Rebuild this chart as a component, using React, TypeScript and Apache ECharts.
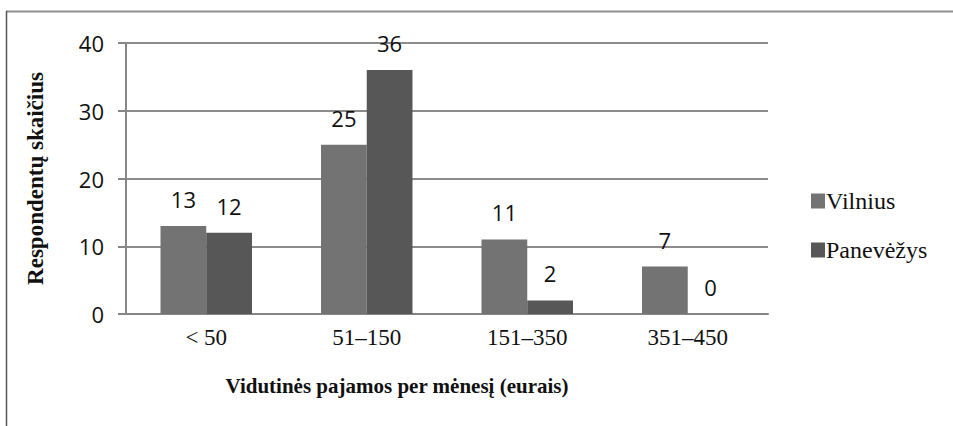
import React, { useEffect, useRef } from "react";
import * as echarts from "echarts";

const categories = ["< 50", "51–150", "151–350", "351–450"];
const vilnius = [13, 25, 11, 7];
const panevezys = [12, 36, 2, 0];
const seriesNames = ["Vilnius", "Panevėžys"];
const yTicks = { min: 0, max: 40, interval: 10 };

const SERIF = "'Liberation Serif', 'Times New Roman', serif";
const SANS = "'Open Sans', sans-serif";

export default function App() {
  const ref = useRef<HTMLDivElement>(null);
  useEffect(() => {
    document.body.style.margin = "0";
    const chart = echarts.init(ref.current!, undefined, { renderer: "svg" });
    const labelStyle = {
      show: true,
      position: "top" as const,
      distance: 16,
      fontFamily: SANS,
      fontSize: 22,
      color: "#111",
    };
    chart.setOption({
      animation: false,
      backgroundColor: "#fff",
      grid: { left: 126, right: 185, top: 43, bottom: 112 },
      legend: {
        orient: "vertical",
        left: 811,
        top: 189,
        padding: 0,
        itemWidth: 14,
        itemHeight: 15,
        itemGap: 25,
        icon: "rect",
        textStyle: { fontFamily: SERIF, fontSize: 24, color: "#111", padding: [0, 0, 0, -4] },
        data: seriesNames,
      },
      xAxis: {
        type: "category",
        data: categories,
        axisLine: { lineStyle: { color: "#868686", width: 2 } },
        axisTick: { show: false },
        axisLabel: { fontFamily: SERIF, fontSize: 23, color: "#111", margin: 12 },
        name: "Vidutinės pajamos per mėnesį (eurais)",
        nameLocation: "middle",
        nameGap: 61,
        nameTextStyle: { fontFamily: SERIF, fontSize: 21, fontWeight: "bold", color: "#111", padding: [0, 100, 0, 0] },
      },
      yAxis: {
        type: "value",
        min: yTicks.min,
        max: yTicks.max,
        interval: yTicks.interval,
        axisLine: { show: true, lineStyle: { color: "#868686", width: 2 } },
        axisTick: { show: true, length: 8, lineStyle: { color: "#868686", width: 2 } },
        splitLine: { lineStyle: { color: "#8c8c8c", width: 2 } },
        axisLabel: { fontFamily: SANS, fontSize: 22, color: "#111", margin: 22 },
        name: "Respondentų skaičius",
        nameLocation: "middle",
        nameGap: 79,
        nameRotate: 90,
        nameTextStyle: { fontFamily: SERIF, fontSize: 23, fontWeight: "bold", color: "#111" },
      },
      series: [
        {
          name: seriesNames[0],
          type: "bar",
          data: vilnius,
          barGap: "0%",
          barCategoryGap: "43%",
          itemStyle: { color: "#737373" },
          label: labelStyle,
        },
        {
          name: seriesNames[1],
          type: "bar",
          data: panevezys,
          itemStyle: { color: "#575757" },
          label: labelStyle,
        },
      ],
      graphic: [
        { type: "line", shape: { x1: 6, y1: 11.5, x2: 953, y2: 11.5 }, style: { stroke: "#8f8f8f", lineWidth: 2 } },
        { type: "line", shape: { x1: 6.5, y1: 11, x2: 6.5, y2: 426 }, style: { stroke: "#555", lineWidth: 1.5 } },
      ],
    });
    return () => chart.dispose();
  }, []);
  return <div ref={ref} style={{ width: 953, height: 426 }} />;
}
